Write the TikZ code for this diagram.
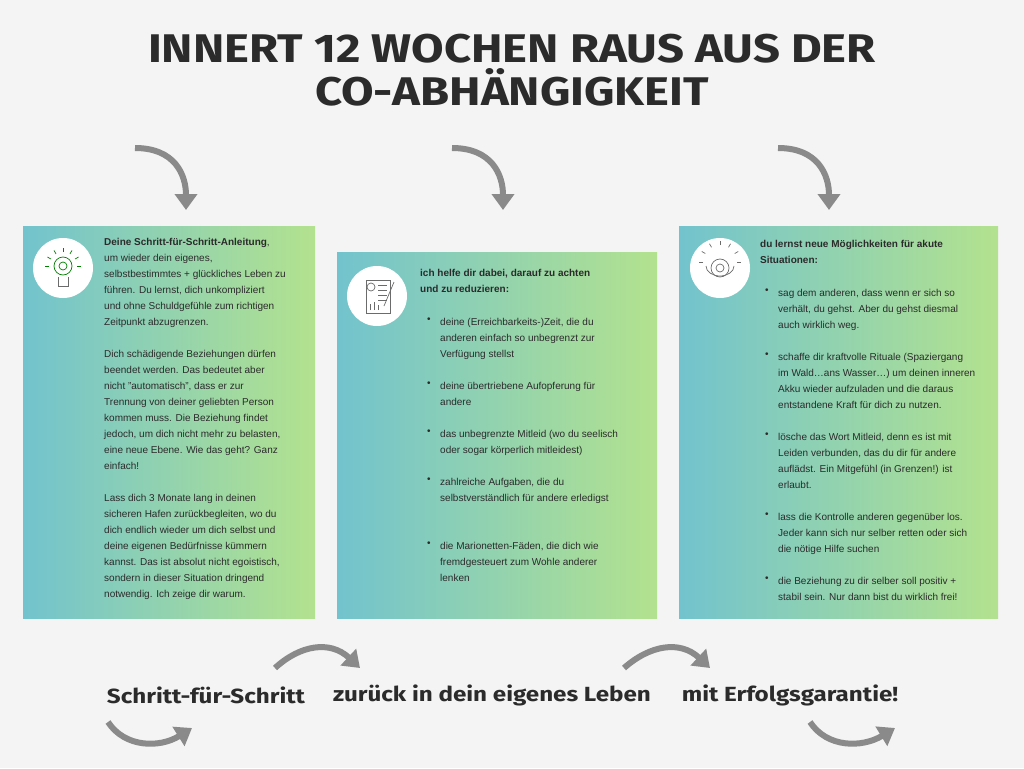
\documentclass[tikz,border=0pt]{standalone}
\usepackage{fontspec}
\setmainfont{Liberation Sans}
\newfontfamily\titlefont{Fira Sans}
\usetikzlibrary{arrows.meta,calc}
\definecolor{bg}{HTML}{F4F4F4}
\definecolor{ink}{HTML}{2B2B2B}
\definecolor{arr}{HTML}{8A8A8A}
\definecolor{tealc}{HTML}{72C3CE}
\definecolor{greenc}{HTML}{B3E28E}
\newcommand{\widen}[1]{\scalebox{1.18}[1]{#1}}
\tikzset{
 panel/.style={left color=tealc,right color=greenc,draw=none},
 body/.style={anchor=north west,inner sep=0pt,align=left,font=\fontsize{10}{16}\selectfont,text=ink},
 dot/.style={anchor=north west,inner sep=0pt,font=\fontsize{10}{16}\selectfont,text=ink},
 icon/.style={circle,fill=white,minimum size=60pt,inner sep=0pt},
 bigarrow/.style={draw=arr,line width=6pt,-{Triangle[length=16pt,width=22pt]}},
 foot/.style={font=\titlefont\bfseries\fontsize{20.5}{24}\selectfont,text=ink,inner sep=0pt}
}
\begin{document}
\begin{tikzpicture}[x=1pt,y=-1pt]
\fill[bg] (0,0) rectangle (1024,768);
\useasboundingbox (0,0) rectangle (1024,768);
\node[font=\titlefont\bfseries\fontsize{40}{43}\selectfont,text=ink,align=center] (title) at (512,70) {\widen{INNERT 12 WOCHEN RAUS AUS DER}\\\widen{CO-ABHÄNGIGKEIT}};
% panels
\fill[panel] (23,226) rectangle (315,618);
\fill[panel] (337,252) rectangle (657,618);
\fill[panel] (679,226) rectangle (998,618);
\node[icon] (i1) at (63,268) {};
\node[icon] (i2) at (377,296) {};
\node[icon] (i3) at (720,268) {};
% icon glyphs
\begin{scope}[draw=ink!70,line width=0.7pt]
\draw[green!50!black] (63,266) circle (9);
\draw[green!50!black] (63,266) circle (4);
\draw (58,277) -- (58,286) -- (68,286) -- (68,277);
\foreach \a in {0,30,...,180}{\draw[green!50!black] ($(63,266)+(\a+180:14)$) -- ($(63,266)+(\a+180:18)$);}
\draw (366,280) rectangle (390,313);
\draw (394,282) -- (384,306);
\draw (371,287) circle (4);
\foreach \yy in {285,290,295,300}{\draw (378,\yy)--(387,\yy);}
\draw (370,310)--(370,304) (374,310)--(374,302) (378,310)--(378,305);
\draw (720,268) circle (9);
\draw (720,268) circle (4);
\draw (706,266) arc (180:0:14 and 10);
\foreach \a in {0,30,...,180}{\draw ($(720,262)+(\a+180:17)$) -- ($(720,262)+(\a+180:21)$);}
\end{scope}
% left text
\node[body] (t1) at (104,238) {\textbf{Deine Schritt-für-Schritt-Anleitung},\\um wieder dein eigenes,\\selbstbestimmtes + glückliches Leben zu\\führen. Du lernst, dich unkompliziert\\und ohne Schuldgefühle zum richtigen\\Zeitpunkt abzugrenzen.};
\node[body] (t2) at (104,350) {Dich schädigende Beziehungen dürfen\\beendet werden. Das bedeutet aber\\nicht "automatisch", dass er zur\\Trennung von deiner geliebten Person\\kommen muss. Die Beziehung findet\\jedoch, um dich nicht mehr zu belasten,\\eine neue Ebene. Wie das geht? Ganz\\einfach!};
\node[body] (t3) at (104,494) {Lass dich 3 Monate lang in deinen\\sicheren Hafen zurückbegleiten, wo du\\dich endlich wieder um dich selbst und\\deine eigenen Bedürfnisse kümmern\\kannst. Das ist absolut nicht egoistisch,\\sondern in dieser Situation dringend\\notwendig. Ich zeige dir warum.};
% middle
\node[body] (m0) at (420,269) {\textbf{ich helfe dir dabei, darauf zu achten}\\\textbf{und zu reduzieren:}};
\foreach \y/\t [count=\i] in {318/{deine (Erreichbarkeits-)Zeit, die du\\anderen einfach so unbegrenzt zur\\Verfügung stellst},
 382/{deine übertriebene Aufopferung für\\andere},
 430/{das unbegrenzte Mitleid (wo du seelisch\\oder sogar körperlich mitleidest)},
 478/{zahlreiche Aufgaben, die du\\selbstverständlich für andere erledigst},
 542/{die Marionetten-Fäden, die dich wie\\fremdgesteuert zum Wohle anderer\\lenken}}{
 \node[dot] (md\i) at (427,\y) {\textbullet};
 \node[body] (m\i) at (440,\y) {\t};}
% right
\node[body] (r0) at (760,240) {\textbf{du lernst neue Möglichkeiten für akute}\\\textbf{Situationen:}};
\foreach \y/\t [count=\i] in {289/{sag dem anderen, dass wenn er sich so\\verhält, du gehst. Aber du gehst diesmal\\auch wirklich weg.},
 353/{schaffe dir kraftvolle Rituale (Spaziergang\\im Wald…ans Wasser…) um deinen inneren\\Akku wieder aufzuladen und die daraus\\entstandene Kraft für dich zu nutzen.},
 433/{lösche das Wort Mitleid, denn es ist mit\\Leiden verbunden, das du dir für andere\\auflädst. Ein Mitgefühl (in Grenzen!) ist\\erlaubt.},
 513/{lass die Kontrolle anderen gegenüber los.\\Jeder kann sich nur selber retten oder sich\\die nötige Hilfe suchen},
 577/{die Beziehung zu dir selber soll positiv +\\stabil sein. Nur dann bist du wirklich frei!}}{
 \node[dot] (rd\i) at (765,\y) {\textbullet};
 \node[body] (r\i) at (778,\y) {\t};}
% arrows top
\coordinate (a1s) at (135,148); \coordinate (a1e) at (186,210);
\coordinate (a2s) at (452,148); \coordinate (a2e) at (503,210);
\coordinate (a3s) at (778,148); \coordinate (a3e) at (829,210);
\foreach \s/\e in {a1s/a1e,a2s/a2e,a3s/a3e}
 \draw[bigarrow] (\s) .. controls ($(\s)+(40,0)$) and ($(\e)+(0,-35)$) .. (\e);
% bottom
\node[foot] (f1) at (206,695) {\widen{Schritt-für-Schritt}};
\node[foot] (f2) at (492,695) {\widen{zurück in dein eigenes Leben}};
\node[foot] (f3) at (790,695) {\widen{mit Erfolgsgarantie!}};
\coordinate (b1s) at (275,668); \coordinate (b1e) at (360,668);
\coordinate (b2s) at (624,668); \coordinate (b2e) at (710,668);
\draw[bigarrow] (b1s) .. controls (300,645) and (330,640) .. (b1e);
\draw[bigarrow] (b2s) .. controls (650,645) and (680,640) .. (b2e);
\coordinate (b3s) at (108,722); \coordinate (b3e) at (192,728);
\coordinate (b4s) at (810,722); \coordinate (b4e) at (895,728);
\draw[bigarrow] (b3s) .. controls (125,748) and (160,748) .. (b3e);
\draw[bigarrow] (b4s) .. controls (827,748) and (862,748) .. (b4e);
\end{tikzpicture}
\end{document}
